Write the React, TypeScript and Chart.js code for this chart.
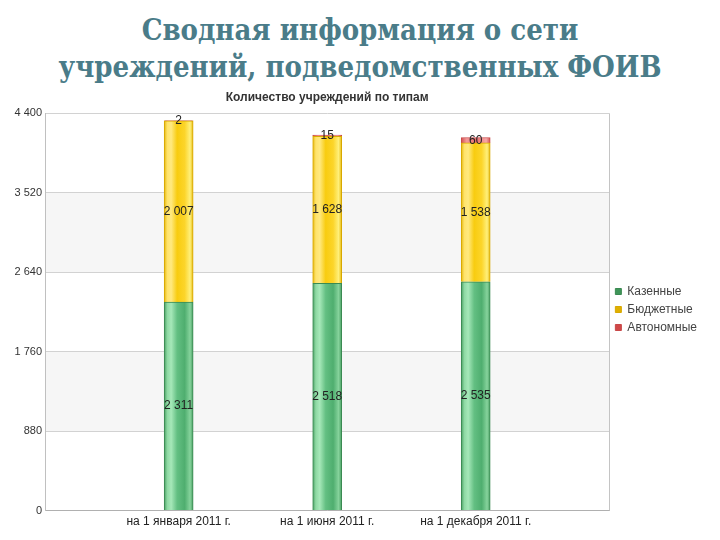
import React, { useEffect, useRef } from "react";
import { Chart, registerables } from "chart.js";

Chart.register(...registerables);

const pageTitleLines = ["Сводная информация о сети", "учреждений, подведомственных ФОИВ"];
const chartTitle = "Количество учреждений по типам";
const categories = ["на 1 января 2011 г.", "на 1 июня 2011 г.", "на 1 декабря 2011 г."];
const seriesNames = ["Казенные", "Бюджетные", "Автономные"];
const kazennye = [2311, 2518, 2535];
const byudzhetnye = [2007, 1628, 1538];
const avtonomnye = [2, 15, 60];
const yMin = 0;
const yMax = 4400;
const yStep = 880;

const fmt = (v: number) => String(Math.round(v)).replace(/\B(?=(\d{3})+(?!\d))/g, " ");

type Stops = [number, string][];
const greenStops: Stops = [
  [0, "#3f9559"], [0.12, "#8ed9a3"], [0.25, "#a6e8b9"], [0.45, "#63bf82"], [0.7, "#4fae6f"], [0.88, "#86d39c"], [1, "#3f9559"],
];
const yellowStops: Stops = [
  [0, "#e0b000"], [0.12, "#ffe36a"], [0.25, "#ffe980"], [0.45, "#f8cc10"], [0.7, "#fcd52a"], [0.88, "#fff07a"], [1, "#e0b000"],
];
const redStops: Stops = [
  [0, "#d04848"], [0.2, "#f49a9a"], [0.5, "#e86a6a"], [0.85, "#f7a8a8"], [1, "#d04848"],
];

function gradientFor(stops: Stops, fallback: string) {
  return (ctx: any) => {
    const chart = ctx.chart;
    const xs = chart.scales?.x;
    if (!chart.chartArea || !xs) return fallback;
    const x = xs.getPixelForValue(ctx.dataIndex);
    const g = chart.ctx.createLinearGradient(x - 15, 0, x + 15, 0);
    stops.forEach(([o, c]) => g.addColorStop(o, c));
    return g;
  };
}

const bandsPlugin = {
  id: "bands",
  beforeDraw(chart: any) {
    const { ctx, chartArea, scales } = chart;
    const y = scales.y;
    ctx.save();
    ctx.fillStyle = "#f6f6f6";
    const ticks = y.ticks.map((t: any) => t.value);
    for (let i = 0; i < ticks.length - 1; i++) {
      const lo = ticks[i];
      const hi = ticks[i + 1];
      if (i % 2 === 1) {
        const top = y.getPixelForValue(hi);
        const bot = y.getPixelForValue(lo);
        ctx.fillRect(chartArea.left, top, chartArea.right - chartArea.left, bot - top);
      }
    }
    ctx.restore();
  },
  afterDraw(chart: any) {
    const { ctx, chartArea } = chart;
    ctx.save();
    ctx.strokeStyle = "#c4c4c4";
    ctx.lineWidth = 1;
    ctx.beginPath();
    ctx.moveTo(Math.round(chartArea.right) + 0.5, chartArea.top);
    ctx.lineTo(Math.round(chartArea.right) + 0.5, chartArea.bottom);
    ctx.stroke();
    ctx.restore();
  },
};

const labelsPlugin = {
  id: "segLabels",
  afterDatasetsDraw(chart: any) {
    const { ctx } = chart;
    ctx.save();
    ctx.font = "12px 'Liberation Sans', Arial, sans-serif";
    ctx.fillStyle = "#222";
    ctx.textAlign = "center";
    ctx.textBaseline = "middle";
    chart.data.datasets.forEach((ds: any, di: number) => {
      const meta = chart.getDatasetMeta(di);
      meta.data.forEach((el: any, i: number) => {
        const v = ds.data[i].y;
        const cy = (el.y + el.base) / 2;
        ctx.fillText(fmt(v), el.x, cy);
      });
    });
    ctx.restore();
  },
};

export default function App() {
  const ref = useRef<HTMLCanvasElement>(null);

  useEffect(() => {
    document.body.style.margin = "0";
    const canvas = ref.current!;
    const mk = (vals: number[]) => vals.map((v, i) => ({ x: i, y: v }));
    const chart = new Chart(canvas, {
      type: "bar",
      data: {
        datasets: [
          {
            label: seriesNames[0],
            data: mk(kazennye),
            backgroundColor: gradientFor(greenStops, "#4fae6f"),
            borderColor: "#3a8a52",
            borderWidth: 1,
            barThickness: 29,
          },
          {
            label: seriesNames[1],
            data: mk(byudzhetnye),
            backgroundColor: gradientFor(yellowStops, "#f8cc10"),
            borderColor: "#d8a800",
            borderWidth: 1,
            barThickness: 29,
          },
          {
            label: seriesNames[2],
            data: mk(avtonomnye),
            backgroundColor: gradientFor(redStops, "#e86a6a"),
            borderColor: "#c84848",
            borderWidth: 1,
            barThickness: 29,
          },
        ] as any,
      },
      options: {
        animation: false,
        responsive: false,
        maintainAspectRatio: false,
        layout: { padding: { top: 0, right: 13, bottom: 7, left: 0 } },
        scales: {
          x: {
            type: "linear",
            stacked: true,
            offset: false,
            min: -0.9,
            max: 2.9,
            afterBuildTicks: (s: any) => {
              s.ticks = categories.map((_, i) => ({ value: i }));
            },
            grid: { display: false, drawTicks: false },
            border: { display: true, color: "#b0b0b0" },
            ticks: {
              padding: 4,
              autoSkip: false,
              maxRotation: 0,
              color: "#222",
              font: { family: "'Liberation Sans', Arial, sans-serif", size: 12 },
              callback: (v: any) => categories[v as number] ?? "",
            },
          },
          y: {
            stacked: true,
            min: yMin,
            max: yMax,
            afterFit: (s: any) => {
              s.width = 45;
            },
            grid: { color: "#d2d2d2", drawTicks: false },
            border: { display: true, color: "#c0c0c0" },
            ticks: {
              stepSize: yStep,
              padding: 3,
              color: "#333",
              font: { family: "'Liberation Sans', Arial, sans-serif", size: 11 },
              callback: (v: any) => fmt(Number(v)),
            },
          },
        },
        plugins: {
          title: {
            display: true,
            text: chartTitle,
            fullSize: false,
            color: "#333",
            font: { family: "'Liberation Sans', Arial, sans-serif", size: 12, weight: "bold" },
            padding: { top: 4, bottom: 9 },
          },
          legend: {
            display: true,
            position: "right",
            align: "center",
            labels: {
              boxWidth: 6,
              boxHeight: 6,
              padding: 6,
              color: "#444",
              font: { family: "'Liberation Sans', Arial, sans-serif", size: 12 },
            },
          },
          tooltip: { enabled: false },
        },
      } as any,
      plugins: [bandsPlugin, labelsPlugin],
    });
    return () => chart.destroy();
  }, []);

  return (
    <div style={{ position: "relative", width: 720, height: 540, background: "#fff", overflow: "hidden" }}>
      <div
        style={{
          position: "absolute",
          left: 0,
          top: 12,
          width: 720,
          textAlign: "center",
          fontFamily: "'DejaVu Serif Condensed', 'DejaVu Serif', serif",
          fontStretch: "condensed",
          fontWeight: "bold",
          fontSize: 29,
          lineHeight: "37px",
          color: "#4a7c89",
        }}
      >
        {pageTitleLines.map((l) => (
          <div key={l}>{l}</div>
        ))}
      </div>
      <canvas ref={ref} width={720} height={454} style={{ position: "absolute", left: 0, top: 86 }} />
    </div>
  );
}
